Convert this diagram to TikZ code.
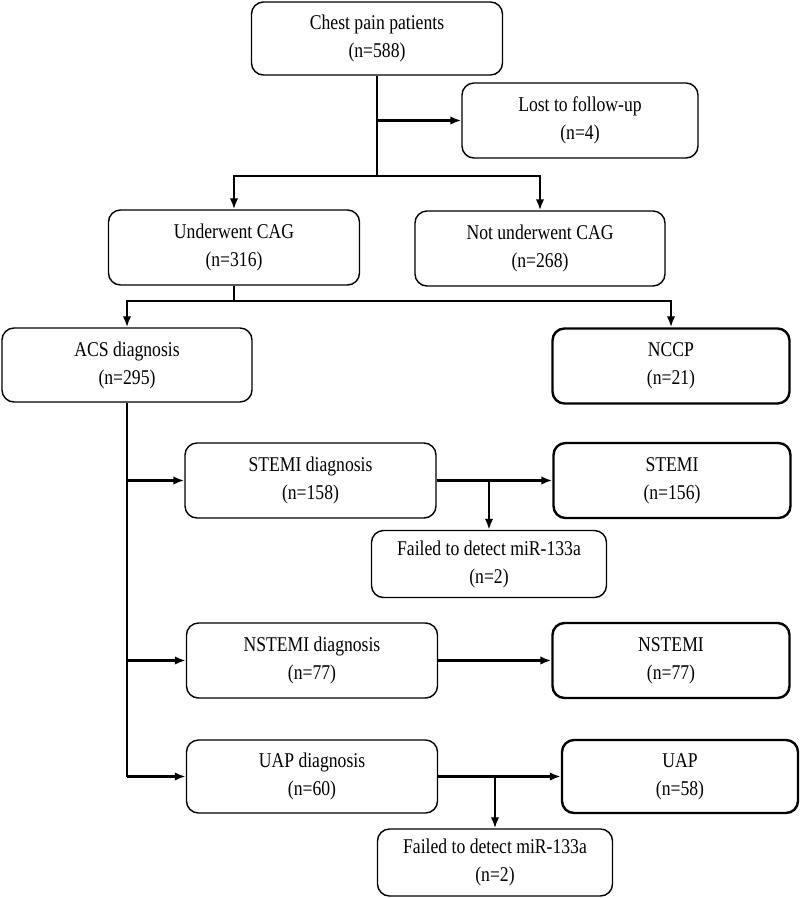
\documentclass[tikz,border=0pt]{standalone}
\usepackage{fontspec}
\setmainfont{Liberation Serif}[FakeStretch=0.84]
\usetikzlibrary{positioning,arrows.meta}

\tikzset{
  box/.style={draw, rounded corners=12pt, line width=1.4pt, align=center, inner sep=0pt,
    minimum width=251pt, minimum height=75pt, font=\fontsize{21}{28}\selectfont},
  endbox/.style={box, line width=2.4pt, minimum width=237pt},
  failbox/.style={box, minimum width=235pt, minimum height=67pt},
  link/.style={line width=2.2pt},
  arr/.style={link, -{Latex[length=11pt,width=8.5pt]}}
}

\begin{document}
\begin{tikzpicture}[x=1pt, y=-1pt]
  \useasboundingbox (0,0) rectangle (800,898);

  \node[box, minimum height=73pt] (chest) at (377,38.5) {Chest pain patients\\(n=588)};
  \node[box, minimum width=236pt] (lost) at (580,120.5) {Lost to follow-up\\(n=4)};
  \node[box] (cag) at (234,247.5) {Underwent CAG\\(n=316)};
  \node[box, minimum width=250pt] (nocag) at (540,248.5) {Not underwent CAG\\(n=268)};
  \node[box, minimum width=250pt, minimum height=74pt] (acs) at (127,365) {ACS diagnosis\\(n=295)};
  \node[endbox] (nccp) at (671,366) {NCCP\\(n=21)};

  \node[box] (stemid) at (310.5,480.5) {STEMI diagnosis\\(n=158)};
  \node[endbox] (stemi) at (672,480.5) {STEMI\\(n=156)};
  \node[failbox] (fail1) at (489,564) {Failed to detect miR-133a\\(n=2)};

  \node[box] (nstemid) at (312,660.5) {NSTEMI diagnosis\\(n=77)};
  \node[endbox] (nstemi) at (671,660.5) {NSTEMI\\(n=77)};

  \node[box, minimum height=73pt] (uapd) at (312,776.5) {UAP diagnosis\\(n=60)};
  \node[endbox, minimum width=236pt, minimum height=73pt] (uap) at (680,776.5) {UAP\\(n=58)};
  \node[failbox] (fail2) at (495,862.5) {Failed to detect miR-133a\\(n=2)};

  \coordinate (j1) at (377,176);
  \coordinate (j2) at (234,301);

  \draw[link] (chest.south) -- (j1);
  \draw[arr] (chest.south |- lost.west) -- (lost.west);
  \draw[arr] (j1) -| (cag.north);
  \draw[arr] (j1) -| (nocag.north);

  \draw[link] (cag.south) -- (j2);
  \draw[arr] (j2) -| (acs.north);
  \draw[arr] (j2) -| (nccp.north);

  \draw[link] (acs.south) -- (acs.south |- uapd.west);
  \draw[arr] (acs.south |- stemid.west) -- (stemid.west);
  \draw[arr] (acs.south |- nstemid.west) -- (nstemid.west);
  \draw[arr] (acs.south |- uapd.west) -- (uapd.west);

  \draw[arr] (stemid.east) -- (stemi.west);
  \draw[arr] (stemid.east -| fail1.north) -- (fail1.north);
  \draw[arr] (nstemid.east) -- (nstemi.west);
  \draw[arr] (uapd.east) -- (uap.west);
  \draw[arr] (uapd.east -| fail2.north) -- (fail2.north);
\end{tikzpicture}
\end{document}
